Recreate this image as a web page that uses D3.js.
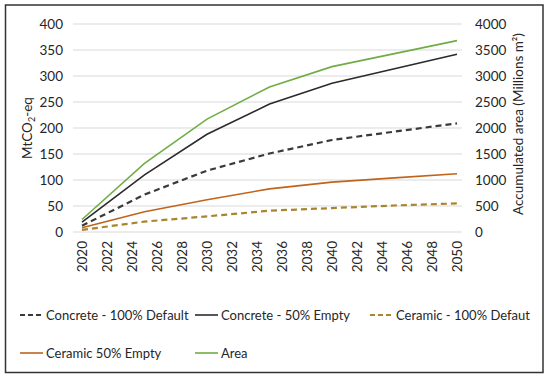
<!DOCTYPE html>
<html><head><meta charset="utf-8">
<script src="https://cdn.jsdelivr.net/npm/d3@7"></script>
<style>body{margin:0;background:#fff}svg{display:block}text{font-family:Lato,"Open Sans",sans-serif;fill:#262626}</style>
</head><body><svg id="c" width="550" height="382"></svg>
<script>
const years = [2020, 2025, 2030, 2035, 2040, 2045, 2050];
const concreteDefault = [12, 72, 118, 151, 177, 193, 209];
const concreteEmpty = [19, 110, 188, 246, 286, 314, 342];
const ceramicDefault = [4, 20, 30, 41, 46, 51, 55];
const ceramicEmpty = [8, 39, 62, 83, 96, 104, 112];
const area = [240, 1320, 2170, 2790, 3180, 3430, 3680];
const xTicks = d3.range(2020, 2051, 2);
const leftTicks = [0, 50, 100, 150, 200, 250, 300, 350, 400];
const rightTicks = [0, 500, 1000, 1500, 2000, 2500, 3000, 3500, 4000];

const series = [
  {name: "Concrete - 100% Default", vals: concreteDefault, color: "#3a3a3a", dash: "6,4", w: 2.2, axis: "L"},
  {name: "Concrete - 50% Empty", vals: concreteEmpty, color: "#2b2b2b", dash: null, w: 1.6, axis: "L"},
  {name: "Ceramic - 100% Defaut", vals: ceramicDefault, color: "#a8862c", dash: "6,4", w: 2.2, axis: "L"},
  {name: "Ceramic 50% Empty", vals: ceramicEmpty, color: "#c0641c", dash: null, w: 1.6, axis: "L"},
  {name: "Area", vals: area, color: "#70ad47", dash: null, w: 1.6, axis: "R"}
];

const svg = d3.select("#c");
svg.append("rect").attr("x", 5.5).attr("y", 5).attr("width", 537.5).attr("height", 367.5)
  .attr("fill", "#fff").attr("stroke", "#333").attr("stroke-width", 1.5);

const x = d3.scaleLinear().domain([2020, 2050]).range([82, 457]);
const yL = d3.scaleLinear().domain([0, 400]).range([232, 24]);
const yR = d3.scaleLinear().domain([0, 4000]).range([232, 24]);

// gridlines
svg.append("g").selectAll("line").data(leftTicks).join("line")
  .attr("x1", 73).attr("x2", 462).attr("y1", d => yL(d)).attr("y2", d => yL(d))
  .attr("stroke", "#d9d9d9").attr("stroke-width", 1);

// left axis
const gl = svg.append("g").attr("transform", "translate(73,0)")
  .call(d3.axisLeft(yL).tickValues(leftTicks).tickSize(0).tickPadding(10));
gl.select(".domain").remove();
gl.selectAll("text").style("font-size", "13.5px").style("font-family", "Lato,sans-serif").attr("fill", "#262626");

// right axis
const gr = svg.append("g").attr("transform", "translate(462,0)")
  .call(d3.axisRight(yR).tickValues(rightTicks).tickFormat(d3.format("d")).tickSize(0).tickPadding(13));
gr.select(".domain").remove();
gr.selectAll("text").style("font-size", "13.5px").style("font-family", "Lato,sans-serif").attr("fill", "#262626");

// x axis
const gx = svg.append("g").attr("transform", "translate(0,232)")
  .call(d3.axisBottom(x).tickValues(xTicks).tickFormat(d3.format("d")).tickSize(0));
gx.select(".domain").remove();
gx.selectAll("text").style("font-size", "13.5px").style("font-family", "Lato,sans-serif").attr("fill", "#262626")
  .attr("transform", "rotate(-90)").attr("text-anchor", "end")
  .attr("x", -9).attr("y", 0).attr("dy", "0.35em");

// axis titles
const lt = svg.append("text").attr("transform", "translate(32,128) rotate(-90)")
  .attr("text-anchor", "middle").style("font-size", "13.5px");
lt.append("tspan").text("MtCO");
lt.append("tspan").text("2").style("font-size", "9px").attr("dy", 3);
lt.append("tspan").text("-eq").attr("dy", -3);

svg.append("text").attr("transform", "translate(523,124) rotate(-90)")
  .attr("text-anchor", "middle").style("font-size", "13.5px").text("Accumulated area (Millions m²)");

// lines
const data = series.map(s => ({...s, pts: years.map((yr, i) => [yr, s.vals[i]])}));
svg.append("g").selectAll("path").data(data).join("path")
  .attr("fill", "none")
  .attr("stroke", d => d.color).attr("stroke-width", d => d.w)
  .attr("stroke-dasharray", d => d.dash)
  .attr("d", d => d3.line().x(p => x(p[0])).y(p => (d.axis === "L" ? yL : yR)(p[1]))(d.pts));

// legend
const legendPos = [[20, 315], [195, 315], [370, 315], [20, 353], [195, 353]];
const lg = svg.append("g").selectAll("g").data(data).join("g")
  .attr("transform", (d, i) => `translate(${legendPos[i][0]},${legendPos[i][1]})`);
lg.append("line").attr("x1", 0).attr("x2", 23).attr("y1", 0).attr("y2", 0)
  .attr("stroke", d => d.color).attr("stroke-width", d => d.w).attr("stroke-dasharray", d => d.dash ? "5,3" : null);
lg.append("text").attr("x", 26).attr("dy", "0.35em").style("font-size", "13px").text(d => d.name);
</script></body></html>
